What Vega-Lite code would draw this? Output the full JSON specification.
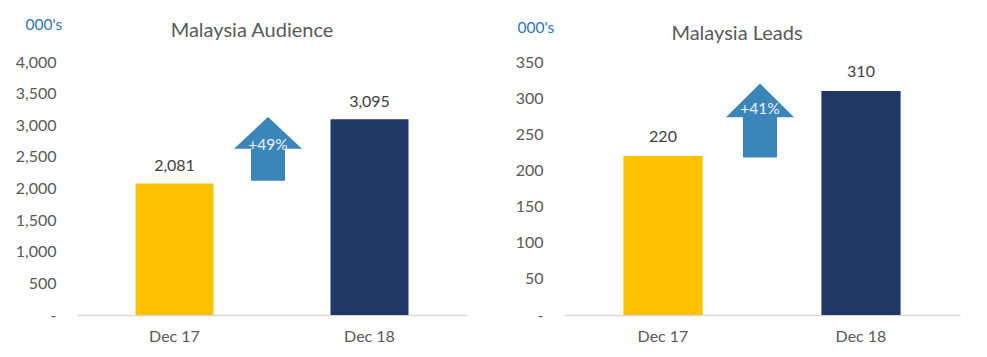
{
  "$schema": "https://vega.github.io/schema/vega-lite/v6.json",
  "padding": {"left": 15, "top": 17, "right": 27, "bottom": 10},
  "bounds": "flush",
  "spacing": 97,
  "config": {
    "view": {"stroke": null},
    "font": "Lato",
    "axis": {"labelFont": "Lato", "titleFont": "Lato", "labelColor": "#595959", "grid": false, "ticks": false, "labelOverlap": false}
  },
  "datasets": {
    "audience": [
      {"period": "Dec 17", "value": 2081},
      {"period": "Dec 18", "value": 3095}
    ],
    "audienceChange": [
      {"period": "Dec 17", "value": 2627, "change": "+49%"}
    ],
    "leads": [
      {"period": "Dec 17", "value": 220},
      {"period": "Dec 18", "value": 310}
    ],
    "leadsChange": [
      {"period": "Dec 17", "value": 269, "change": "+41%"}
    ]
  },
  "hconcat": [
    {
      "width": 390,
      "height": 253,
      "title": {"text": "Malaysia Audience", "anchor": "middle", "frame": "group", "dx": -20, "offset": -24, "fontSize": 20, "font": "Lato", "fontWeight": "normal", "color": "#595959"},
      "encoding": {
        "x": {"field": "period", "type": "nominal", "scale": {"type": "band", "paddingInner": 0, "paddingOuter": 0},
          "axis": {"title": null, "labelAngle": 0, "labelFontSize": 16, "labelPadding": 13, "domainColor": "#D9D9D9", "domainWidth": 1.5}},
        "y": {"field": "value", "type": "quantitative", "title": "000's", "scale": {"domain": [0, 4000], "nice": false},
          "axis": {"domain": false, "labelFontSize": 16, "labelPadding": 21, "labelOverlap": false, "values": [0, 500, 1000, 1500, 2000, 2500, 3000, 3500, 4000],
            "labelExpr": "datum.value === 0 ? '-\u00a0\u00a0\u00a0' : datum.label",
            "titleAngle": 0, "titleAlign": "left", "titleBaseline": "middle", "titleX": -52, "titleY": -38,
            "titleColor": "#2E75B6", "titleFontSize": 15.5, "titleFontWeight": "normal"}}
      },
      "layer": [
        {
          "data": {"name": "audience"},
          "mark": {"type": "bar", "width": {"band": 0.4}},
          "encoding": {
            "color": {"field": "period", "type": "nominal", "scale": {"domain": ["Dec 17", "Dec 18"], "range": ["#FFC000", "#203864"]}, "legend": null}
          }
        },
        {
          "data": {"name": "audience"},
          "mark": {"type": "text", "baseline": "middle", "dy": -17, "fontSize": 16, "color": "#404040"},
          "encoding": {
            "text": {"field": "value", "type": "quantitative", "format": ","}
          }
        },
        {
          "data": {"name": "audienceChange"},
          "mark": {"type": "point", "shape": "M 0 -0.94 L 1 0 L 0.5 0 L 0.5 0.94 L -0.5 0.94 L -0.5 0 L -1 0 Z", "filled": true, "size": 4624, "opacity": 1, "strokeWidth": 0, "color": "#3A86B9", "xOffset": -4},
          "encoding": {
            "x": {"field": "period", "type": "nominal", "bandPosition": 1}
          }
        },
        {
          "data": {"name": "audienceChange"},
          "mark": {"type": "text", "baseline": "middle", "dy": -4, "xOffset": -4, "fontSize": 15.5, "color": "#EEF4FA"},
          "encoding": {
            "x": {"field": "period", "type": "nominal", "bandPosition": 1},
            "text": {"field": "change", "type": "nominal"}
          }
        }
      ]
    },
    {
      "width": 396,
      "height": 253,
      "title": {"text": "Malaysia Leads", "anchor": "middle", "frame": "group", "dx": -25, "offset": -24, "fontSize": 20, "font": "Lato", "fontWeight": "normal", "color": "#595959"},
      "encoding": {
        "x": {"field": "period", "type": "nominal", "scale": {"type": "band", "paddingInner": 0, "paddingOuter": 0},
          "axis": {"title": null, "labelAngle": 0, "labelFontSize": 16, "labelPadding": 13, "domainColor": "#D9D9D9", "domainWidth": 1.5}},
        "y": {"field": "value", "type": "quantitative", "title": "000's", "scale": {"domain": [0, 350], "nice": false},
          "axis": {"domain": false, "labelFontSize": 16, "labelPadding": 21, "labelOverlap": false, "values": [0, 50, 100, 150, 200, 250, 300, 350],
            "labelExpr": "datum.value === 0 ? '-\u00a0\u00a0\u00a0' : datum.label",
            "titleAngle": 0, "titleAlign": "left", "titleBaseline": "middle", "titleX": -47, "titleY": -35,
            "titleColor": "#2E75B6", "titleFontSize": 15.5, "titleFontWeight": "normal"}}
      },
      "layer": [
        {
          "data": {"name": "leads"},
          "mark": {"type": "bar", "width": {"band": 0.4}},
          "encoding": {
            "color": {"field": "period", "type": "nominal", "scale": {"domain": ["Dec 17", "Dec 18"], "range": ["#FFC000", "#203864"]}, "legend": null}
          }
        },
        {
          "data": {"name": "leads"},
          "mark": {"type": "text", "baseline": "middle", "dy": -19, "fontSize": 16, "color": "#404040"},
          "encoding": {
            "text": {"field": "value", "type": "quantitative", "format": ","}
          }
        },
        {
          "data": {"name": "leadsChange"},
          "mark": {"type": "point", "shape": "M 0 -1.09 L 1 -0.1 L 0.5 -0.1 L 0.5 1.09 L -0.5 1.09 L -0.5 -0.1 L -1 -0.1 Z", "filled": true, "size": 4624, "opacity": 1, "strokeWidth": 0, "color": "#3A86B9", "xOffset": -2},
          "encoding": {
            "x": {"field": "period", "type": "nominal", "bandPosition": 1}
          }
        },
        {
          "data": {"name": "leadsChange"},
          "mark": {"type": "text", "baseline": "middle", "dy": -12, "xOffset": -2, "fontSize": 15.5, "color": "#EEF4FA"},
          "encoding": {
            "x": {"field": "period", "type": "nominal", "bandPosition": 1},
            "text": {"field": "change", "type": "nominal"}
          }
        }
      ]
    }
  ]
}
